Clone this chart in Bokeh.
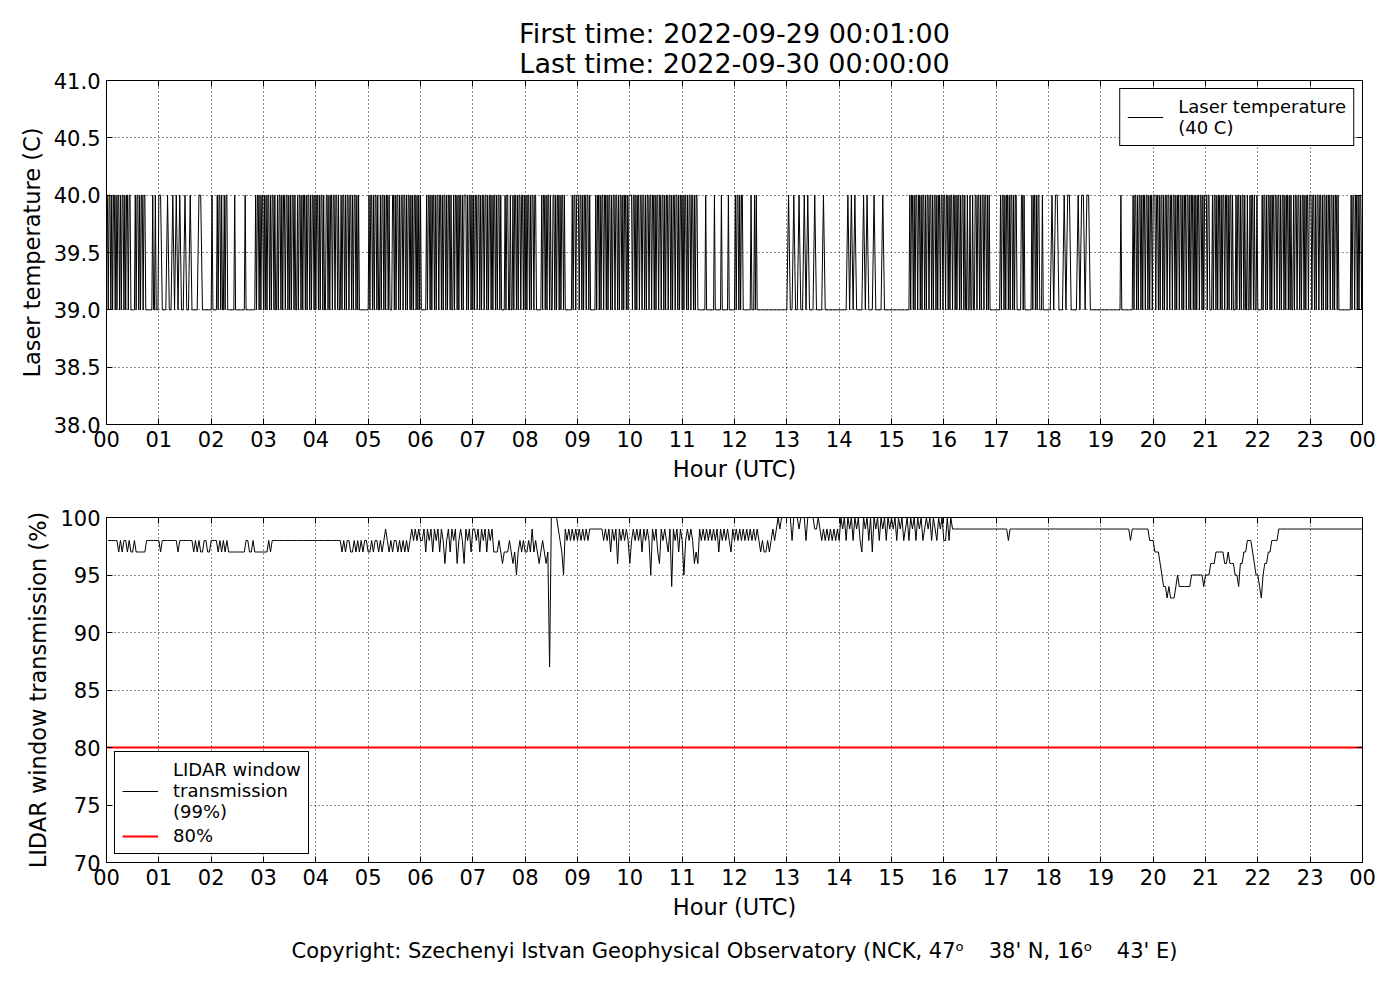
from bokeh.plotting import figure
from bokeh.models import (Range1d, FixedTicker, LinearAxis, Legend, LegendItem, Title,
                          PrintfTickFormatter, CustomJSTickFormatter)
from bokeh.layouts import column
from bokeh.embed import file_html
from bokeh.resources import INLINE

FONT = "DejaVu Sans"

title_first = "First time: 2022-09-29 00:01:00"
title_last = "Last time: 2022-09-30 00:00:00"
footer_text = ("Copyright: Szechenyi Istvan Geophysical Observatory (NCK, "
               "47\u1d52\u2003\u200638' N, 16\u1d52\u2003\u200643' E)")

hour_ticks = list(range(25))
hour_labels = ["00", "01", "02", "03", "04", "05", "06", "07", "08", "09", "10", "11",
               "12", "13", "14", "15", "16", "17", "18", "19", "20", "21", "22", "23", "00"]
temp_ticks = [38.0, 38.5, 39.0, 39.5, 40.0, 40.5, 41.0]
trans_ticks = [70, 75, 80, 85, 90, 95, 100]

# Laser temperature, one string per hour (evenly spaced samples within the hour):
# '1' = 40 C, '0' = 39 C
temp_low, temp_high = 39.0, 40.0
temp_hours = [
    "1011010110" "1011010110" "1011011000" "0010110101" "1011000000" "0010010001",
    "100010010101001001000011000000",
    "1000001011" "0100101100" "0000001000" "0000000010" "0000000000" "1011010110",
    "1010110101" "1010010110" "1011011010" "1011010010" "1101011010" "1101011010",
    "1101011010" "0110101101" "1011010010" "1101011011" "0101101010" "0000000000",
    "1011010110" "1001011010" "1101000110" "1011010110" "1101011010" "1011010101",
    "0000001011" "0101101011" "0110101101" "0110100101" "1010110101" "1101011010",
    "1011011010" "1101101011" "0101101011" "0100001011" "0010010110" "1011011010",
    "1011010110" "1100000010" "1101011010" "0110101101" "0110100000" "0001011011",
    "1011010110" "1101000000" "1011010110" "1101011010" "1101101011" "0101101011",
    "1101101011" "0110110101" "1011011010" "1101101101" "0110110101" "1011010110",
    "1011010110" "1101011000" "0000001000" "0000001000" "0000100000" "0010000000",
    "1011010110" "0000000010" "0010100000" "0000000000" "0000000000" "0000000000",
    "100100100101000100001000000000",
    "000010101000010100010000100000",
    "0000000000" "0000000000" "1011010110" "1101011010" "1101101011" "0101101101",
    "1011010110" "1101011010" "1101001001" "0010011011" "0101101101" "0100000000",
    "0000101101" "0110101101" "0110000011" "0100000000" "1011010110" "0010000000",
    "010110001011000010110110000000",
    "0000000000" "0000000000" "0010000000" "0000001011" "0101101011" "0110101101",
    "1101101011" "0101101101" "1011010110" "1101011011" "0101101010" "1101101011",
    "1011000101" "1010110101" "1011010110" "1000101101" "0110100100" "1011010010",
    "0000101101" "0110101101" "1011010110" "1011010100" "1011011010" "1101011011",
    "1011010110" "1101011010" "1101101011" "0100000000" "0000001011" "0110101101",
]

# LIDAR window transmission, one string per hour, 2-minute samples:
# each character = (100 - transmission %) as a hex digit
trans_hours = [
    "222222323223233233333322222222",
    "322222222232222222232323322332",
    "222323232333333333322332333333",
    "332322222222222222222222222222",
    "222222222222223232233232323223",
    "323223232123232232323232121212",
    "213121312131242131214212412131",
    "121312131213332343332343532323",
    "3231323432343d0000123512121212",
    "121212111111112121312141212124",
    "212121312125121341212316121312",
    "521212434121212121213121212312",
    "121212121212123233232121010000",
    "002000100020000110121212121212",
    "010201020102301020301020102010",
    "102010210201020102101020120102",
    "202011111111111111111111111111",
    "111111211111111111111111111111",
    "111111111111111111111111111111",
    "111111111111111121111111111222",
    "333456676777656666666555555565",
    "554443333344344455644332223455",
    "675443322221111111111111111111",
    "111111111111111111111111111111",
]

threshold_x = [0, 24]
threshold_y = [80, 80]


def expand(hours, conv):
    xs, ys = [], []
    for h, s in enumerate(hours):
        n = len(s)
        for i, c in enumerate(s):
            xs.append(h + (i + 1) / n)
            ys.append(conv(c))
    return xs, ys


temp_x, temp_y = expand(temp_hours, lambda c: temp_high if c == "1" else temp_low)
trans_x, trans_y = expand(trans_hours, lambda c: 100 - int(c, 16))

W = 1384
FL, FR = 106, 22


def style(p, yticks, yfmt, ylabel):
    p.outline_line_color = "black"
    p.outline_line_width = 1
    p.outline_line_alpha = 1
    p.background_fill_color = "white"
    p.border_fill_color = "white"
    p.xaxis.ticker = FixedTicker(ticks=hour_ticks)
    p.xaxis.major_label_overrides = {t: l for t, l in zip(hour_ticks, hour_labels)}
    p.yaxis.ticker = FixedTicker(ticks=yticks)
    p.yaxis.formatter = PrintfTickFormatter(format=yfmt)
    p.xaxis.axis_label = "Hour (UTC)"
    p.yaxis.axis_label = ylabel
    for ax in p.axis:
        ax.axis_line_color = "black"
        ax.major_tick_line_color = "black"
        ax.major_tick_in = 6
        ax.major_tick_out = 0
        ax.minor_tick_line_color = None
        ax.major_label_text_font = FONT
        ax.major_label_text_font_size = "21px"
        ax.major_label_text_color = "black"
        ax.major_label_standoff = 6
        ax.axis_label_text_font = FONT
        ax.axis_label_text_font_size = "22.5px"
        ax.axis_label_text_font_style = "normal"
        ax.axis_label_text_color = "black"
        ax.axis_label_standoff = 6
    for g in (p.xgrid, p.ygrid):
        g.grid_line_color = "black"
        g.grid_line_dash = "1 3"
        g.grid_line_width = 1
        g.grid_line_alpha = 0.9
    p.xgrid.ticker = FixedTicker(ticks=hour_ticks)
    p.ygrid.ticker = FixedTicker(ticks=yticks)
    blank = CustomJSTickFormatter(code="return ''")
    top = LinearAxis(ticker=FixedTicker(ticks=hour_ticks), formatter=blank,
                     major_tick_in=6, major_tick_out=0, minor_tick_line_color=None,
                     major_label_standoff=0, axis_line_color="black",
                     major_tick_line_color="black")
    right = LinearAxis(ticker=FixedTicker(ticks=yticks), formatter=blank,
                       major_tick_in=6, major_tick_out=0, minor_tick_line_color=None,
                       major_label_standoff=0, axis_line_color="black",
                       major_tick_line_color="black")
    p.add_layout(top, "above")
    p.add_layout(right, "right")


def make_legend(items, loc):
    return Legend(items=items, location=loc, border_line_color="black", border_line_width=1,
                  border_line_alpha=1, background_fill_color="white", background_fill_alpha=1,
                  label_text_font=FONT, label_text_font_size="18px", label_text_color="black",
                  label_text_line_height=1.1,
                  glyph_width=36, glyph_height=20, label_standoff=15, padding=7,
                  spacing=3, margin=8)


def title(text, standoff, size="27px"):
    return Title(text=text, align="center", text_font=FONT, text_font_size=size,
                 text_font_style="normal", text_color="black", standoff=standoff,
                 text_line_height=1.0)


# ---------- top panel ----------
p1 = figure(width=W, height=490, output_backend="svg", toolbar_location=None,
            title_location=None, x_range=Range1d(0, 24), y_range=Range1d(38, 41),
            min_border_left=FL, min_border_right=FR, min_border_top=80, min_border_bottom=66)
r_temp = p1.line(temp_x, temp_y, line_color="black", line_width=1)
style(p1, temp_ticks, "%.1f", "Laser temperature (C)")
p1.add_layout(title(title_last, 3), "above")
p1.add_layout(title(title_first, -8), "above")
p1.add_layout(make_legend([LegendItem(label="Laser temperature\n(40 C)", renderers=[r_temp])],
                          "top_right"))

# ---------- bottom panel ----------
p2 = figure(width=W, height=490, output_backend="svg", toolbar_location=None,
            title_location=None, x_range=Range1d(0, 24), y_range=Range1d(70, 100),
            min_border_left=FL, min_border_right=FR, min_border_top=27, min_border_bottom=118)
r_trans = p2.line(trans_x, trans_y, line_color="black", line_width=1)
r_thr = p2.line(threshold_x, threshold_y, line_color="red", line_width=2)
style(p2, trans_ticks, "%d", "LIDAR window transmission (%)")
p2.add_layout(make_legend([LegendItem(label="LIDAR window\ntransmission\n(99%)", renderers=[r_trans]),
                           LegendItem(label="80%", renderers=[r_thr])], "bottom_left"))
p2.add_layout(Title(text=footer_text, align="center", text_font=FONT, text_font_size="21px",
                    text_font_style="normal", text_color="black", standoff=28), "below")

layout = column(p1, p2)
open("out.html", "w").write(file_html(layout, INLINE))
